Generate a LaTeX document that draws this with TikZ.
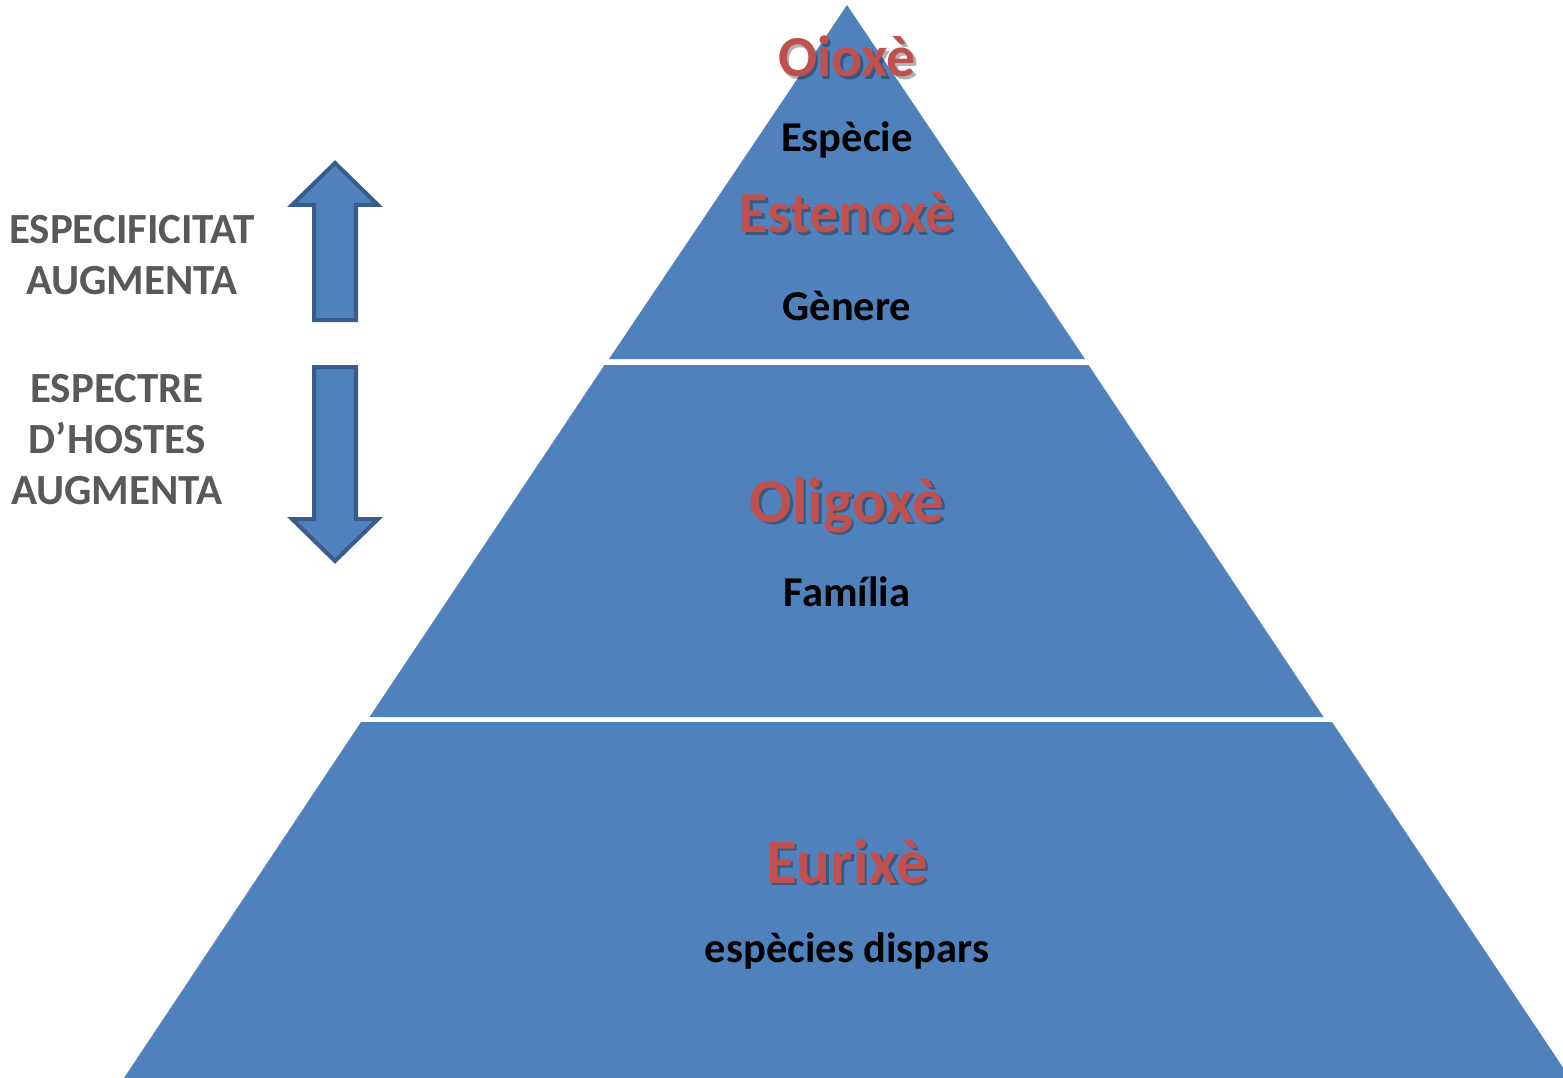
\documentclass[tikz,border=0pt]{standalone}
\usepackage{fontspec}
\setmainfont{Carlito}
\definecolor{tierblue}{HTML}{4F81BD}
\definecolor{tieredge}{HTML}{385D8A}
\definecolor{titlered}{HTML}{C0504D}
\definecolor{sidegrey}{HTML}{595959}
\tikzset{
  tier/.style={fill=tierblue, draw=none},
  bigarrow/.style={fill=tierblue, draw=tieredge, line width=4pt, line join=miter},
  titletext/.style={font=\bfseries\fontsize{#1}{#1}\selectfont, text=titlered, inner sep=0pt, anchor=base},
  shadowtext/.style={font=\bfseries\fontsize{#1}{#1}\selectfont, text=black, opacity=0.3, inner sep=0pt, anchor=base},
  ranktext/.style={font=\bfseries\fontsize{42.5}{44}\selectfont, text=black, inner sep=0pt, anchor=base},
  sidetext/.style={font=\bfseries\fontsize{43}{51}\selectfont, text=sidegrey, inner sep=0pt, align=center},
}
\begin{document}
\begin{tikzpicture}[x=1pt,y=-1pt]
\useasboundingbox (0,0) rectangle (1563,1078);
% pyramid tiers
\fill[tier] (847,5) -- (1085,359) -- (609,359) -- cycle;
\fill[tier] (604.5,365) -- (1088.5,365) -- (1323.5,717) -- (369.5,717) -- cycle;
\fill[tier] (361,722) -- (1332,722) -- (1570,1078) -- (124,1078) -- cycle;
% side arrows
\draw[bigarrow] (335,163) -- (378,205) -- (356,205) -- (356,320) -- (314,320)
  -- (314,205) -- (292,205) -- cycle;
\draw[bigarrow] (314,367) -- (356,367) -- (356,519) -- (378,519) -- (335,561)
  -- (292,519) -- (314,519) -- cycle;
% tier labels (red titles carry a soft drop shadow)
\node[shadowtext=58] at (849.5,79.5) {Oioxè};
\node[titletext=58] (oioxe) at (847,77) {Oioxè};
\node[ranktext] (especie) at (847,152) {Espècie};
\node[shadowtext=58] at (849.5,235.5) {Estenoxè};
\node[titletext=58] (estenoxe) at (847,233) {Estenoxè};
\node[ranktext] (genere) at (847,320) {Gènere};
\node[shadowtext=63] at (849.5,524.5) {Oligoxè};
\node[titletext=63] (oligoxe) at (847,522) {Oligoxè};
\node[ranktext] (familia) at (847,606) {Família};
\node[shadowtext=63] at (849.5,885.5) {Eurixè};
\node[titletext=63] (eurixe) at (847,883) {Eurixè};
\node[ranktext] (dispars) at (847,962) {espècies dispars};
% side captions
\node[sidetext] (spec) at (132,255) {ESPECIFICITAT\\AUGMENTA};
\node[sidetext] (hosts) at (117,440) {ESPECTRE\\D’HOSTES\\AUGMENTA};
\end{tikzpicture}
\end{document}
